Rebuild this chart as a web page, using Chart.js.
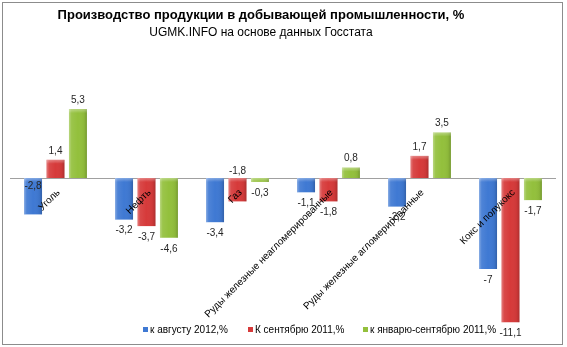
<!DOCTYPE html>
<html lang="ru">
<head>
<meta charset="utf-8">
<title>Производство продукции в добывающей промышленности</title>
<script src="https://cdn.jsdelivr.net/npm/chart.js@4"></script>
<style>
  html, body { margin: 0; padding: 0; background: #ffffff; }
  canvas { display: block; }
</style>
</head>
<body>
<canvas id="chart" width="567" height="347"></canvas>
<script>
// Categories and series (percent change)
const categories = [
  'Уголь',
  'Нефть',
  'Газ',
  'Руды железные неагломерированные',
  'Руды железные агломерированные',
  'Кокс и полукокс'
];
const seriesNames = ['к августу 2012,%', 'К сентябрю 2011,%', 'к январю-сентябрю 2011,%'];
const toAugust2012 = [-2.8, -3.2, -3.4, -1.1, -2.2, -7];
const toSeptember2011 = [1.4, -3.7, -1.8, -1.8, 1.7, -11.1];
const toJanSep2011 = [5.3, -4.6, -0.3, 0.8, 3.5, -1.7];

const titleText = 'Производство продукции в добывающей промышленности, %';
const subtitleText = 'UGMK.INFO на основе данных Госстата';

const colors = ['#3f79d3', '#d63a3a', '#93c03c'];
const FONT = '"Liberation Sans", Arial, sans-serif';

// a couple of value labels sit at the axis instead of the bar end
const labelSpots = { '0-0': 'inside', '1-2': 'aboveAxis' };

const fmt = v => String(v).replace('.', ',');

const decor = {
  id: 'decor',
  beforeDatasetsDraw(chart) {
    const ctx = chart.ctx;
    const area = chart.chartArea;
    const y0 = chart.scales.y.getPixelForValue(0);
    ctx.save();
    ctx.strokeStyle = '#a0a0a0';
    ctx.lineWidth = 1;
    ctx.beginPath();
    ctx.moveTo(area.left, Math.round(y0) + 0.5);
    ctx.lineTo(area.right, Math.round(y0) + 0.5);
    ctx.stroke();
    ctx.restore();
  },
  afterDatasetsDraw(chart) {
    const ctx = chart.ctx;
    const y0 = chart.scales.y.getPixelForValue(0);
    ctx.save();

    // bevel shading over each bar
    chart.data.datasets.forEach((ds, di) => {
      const meta = chart.getDatasetMeta(di);
      meta.data.forEach(bar => {
        const left = bar.x - bar.width / 2;
        const top = Math.min(bar.y, bar.base);
        const h = Math.abs(bar.base - bar.y);
        const g = ctx.createLinearGradient(left, 0, left + bar.width, 0);
        g.addColorStop(0, 'rgba(255,255,255,0.35)');
        g.addColorStop(0.15, 'rgba(255,255,255,0.08)');
        g.addColorStop(0.5, 'rgba(255,255,255,0)');
        g.addColorStop(0.85, 'rgba(0,0,0,0.05)');
        g.addColorStop(1, 'rgba(0,0,0,0.2)');
        ctx.fillStyle = g;
        ctx.fillRect(left, top, bar.width, h);
        const gv = ctx.createLinearGradient(0, top, 0, top + Math.min(4, h));
        gv.addColorStop(0, 'rgba(255,255,255,0.35)');
        gv.addColorStop(1, 'rgba(255,255,255,0)');
        ctx.fillStyle = gv;
        ctx.fillRect(left, top, bar.width, Math.min(4, h));
      });
    });

    // value labels
    ctx.font = '10px ' + FONT;
    ctx.fillStyle = '#262626';
    ctx.textAlign = 'center';
    ctx.textBaseline = 'middle';
    chart.data.datasets.forEach((ds, di) => {
      const meta = chart.getDatasetMeta(di);
      meta.data.forEach((bar, i) => {
        const v = ds.data[i];
        const spot = labelSpots[di + '-' + i];
        let y;
        if (spot === 'inside') y = y0 + 8;
        else if (spot === 'aboveAxis') y = y0 - 7;
        else if (v >= 0) y = bar.y - 9;
        else y = bar.y + 11;
        ctx.fillText(fmt(v), bar.x, y);
      });
    });

    // category labels, rotated along the axis
    ctx.font = '10px ' + FONT;
    ctx.fillStyle = '#000000';
    ctx.textAlign = 'right';
    ctx.textBaseline = 'middle';
    categories.forEach((c, i) => {
      const x = chart.scales.x.getPixelForValue(i);
      ctx.save();
      ctx.translate(x + 3, y0 + 13);
      ctx.rotate(-Math.PI / 4);
      ctx.fillText(c, 0, 0);
      ctx.restore();
    });

    // title and subtitle
    ctx.fillStyle = '#000000';
    ctx.textAlign = 'center';
    ctx.textBaseline = 'middle';
    ctx.font = 'bold 13px ' + FONT;
    ctx.fillText(titleText, 261, 15);
    ctx.font = '12px ' + FONT;
    ctx.fillText(subtitleText, 261, 33);

    // legend
    const legendX = [143, 248, 363];
    ctx.font = '10px ' + FONT;
    ctx.textAlign = 'left';
    seriesNames.forEach((name, k) => {
      ctx.fillStyle = colors[k];
      ctx.fillRect(legendX[k], 327, 5, 5);
      ctx.fillStyle = '#000000';
      ctx.fillText(name, legendX[k] + 7, 330);
    });

    // outer frame
    ctx.strokeStyle = '#8c8c8c';
    ctx.lineWidth = 1;
    ctx.strokeRect(2.5, 2.5, 560, 342);
    ctx.restore();
  }
};

new Chart(document.getElementById('chart'), {
  type: 'bar',
  data: {
    labels: categories,
    datasets: [
      { label: seriesNames[0], data: toAugust2012, backgroundColor: colors[0] },
      { label: seriesNames[1], data: toSeptember2011, backgroundColor: colors[1] },
      { label: seriesNames[2], data: toJanSep2011, backgroundColor: colors[2] }
    ]
  },
  options: {
    responsive: false,
    animation: false,
    devicePixelRatio: 1,
    categoryPercentage: 0.74,
    barPercentage: 0.8,
    layout: { padding: { top: 74, bottom: 13, left: 10, right: 11 } },
    plugins: {
      legend: { display: false },
      title: { display: false },
      tooltip: { enabled: false }
    },
    scales: {
      x: { display: false },
      y: { display: false, min: -12, max: 8 }
    }
  },
  plugins: [decor]
});
</script>
</body>
</html>
